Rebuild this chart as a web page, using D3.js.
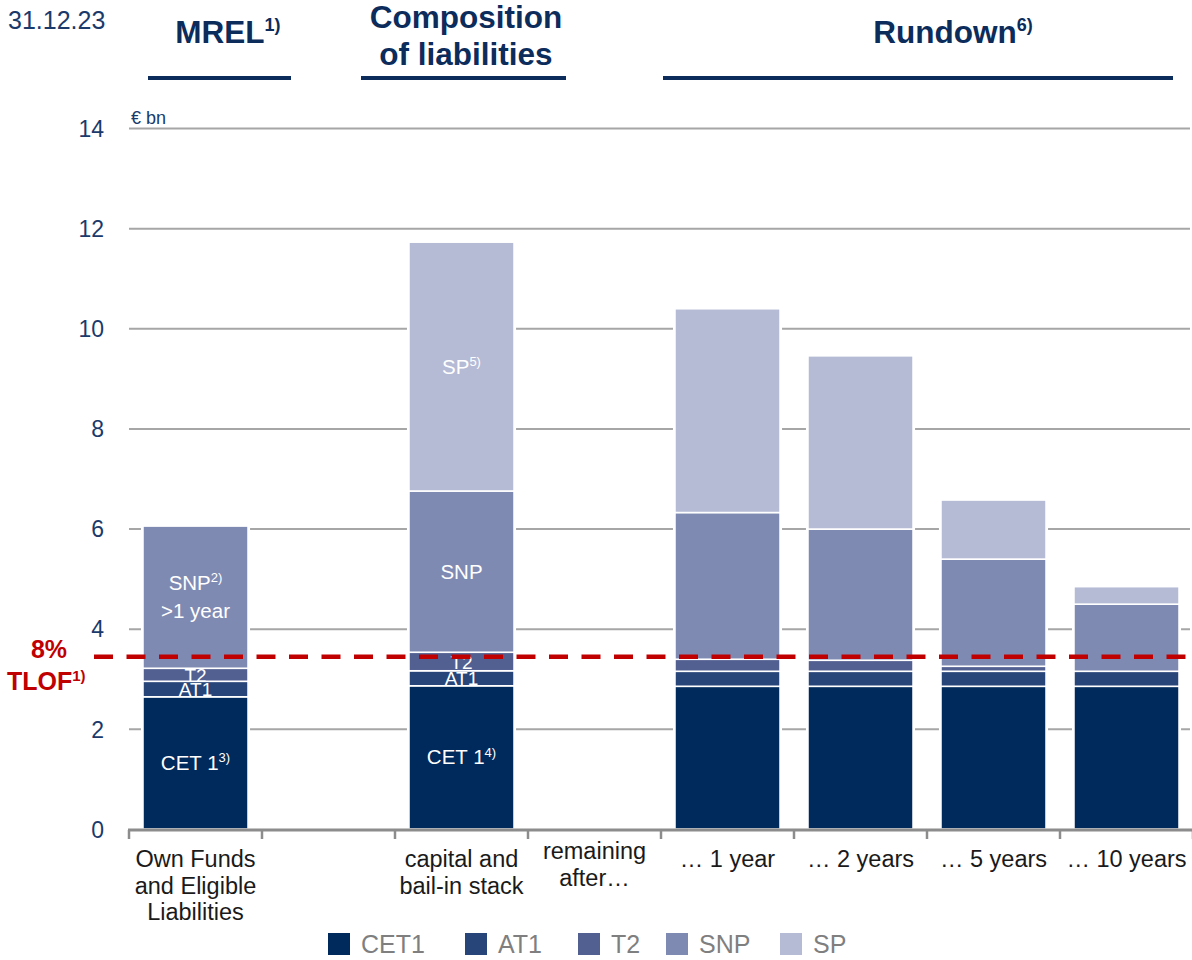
<!DOCTYPE html>
<html>
<head>
<meta charset="utf-8">
<script src="https://cdn.jsdelivr.net/npm/d3@7"></script>
<style>
  body { margin: 0; background: #fff; }
  svg { display: block; }
  text { font-family: "Liberation Sans", Arial, sans-serif; }
</style>
</head>
<body>
<svg id="chart" width="1192" height="960"></svg>
<script>
// ---- data (€ bn, 31.12.23) ----
const categories = ["ofel", "spacer", "stack", "remaining", "y1", "y2", "y5", "y10"];
const categoryLabels = [
  ["Own Funds", "and Eligible", "Liabilities"],
  [],
  ["capital and", "bail-in stack"],
  ["remaining", "after…"],
  ["… 1 year"],
  ["… 2 years"],
  ["… 5 years"],
  ["… 10 years"]
];
const seriesNames = ["CET1", "AT1", "T2", "SNP", "SP"];
const cet1 = [2.64, 0, 2.86, 0, 2.85, 2.85, 2.85, 2.85];
const at1  = [0.31, 0, 0.30, 0, 0.30, 0.30, 0.30, 0.30];
const t2   = [0.26, 0, 0.37, 0, 0.24, 0.22, 0.10, 0.00];
const snp  = [2.84, 0, 3.22, 0, 2.93, 2.62, 2.14, 1.34];
const sp   = [0.00, 0, 4.97, 0, 4.07, 3.46, 1.18, 0.35];
const yTicks = [0, 2, 4, 6, 8, 10, 12, 14];
const tlofLevel = 3.44;

// labels written inside the bars
const segmentLabels = [
  { cat: "ofel",  series: "CET1", lines: [["CET 1", "3)"]] },
  { cat: "ofel",  series: "AT1",  lines: [["AT1", ""]] },
  { cat: "ofel",  series: "T2",   lines: [["T2", ""]] },
  { cat: "ofel",  series: "SNP",  lines: [["SNP", "2)"], [">1 year", ""]] },
  { cat: "stack", series: "CET1", lines: [["CET 1", "4)"]] },
  { cat: "stack", series: "AT1",  lines: [["AT1", ""]] },
  { cat: "stack", series: "T2",   lines: [["T2", ""]] },
  { cat: "stack", series: "SNP",  lines: [["SNP", ""]] },
  { cat: "stack", series: "SP",   lines: [["SP", "5)"]] }
];

// header groups above the plot
const headers = [
  { lines: [["MREL", "1)"]], from: 148, to: 291, center: 228 },
  { lines: [["Composition", ""], ["of liabilities", ""]], from: 361, to: 566, center: 466 },
  { lines: [["Rundown", "6)"]], from: 663, to: 1173, center: 953 }
];

// ---- styling ----
const colors = {
  CET1: "#00295c",
  AT1:  "#28457a",
  T2:   "#525f91",
  SNP:  "#7f8ab3",
  SP:   "#b5bad5"
};
const navy = "#0c2c5c";
const red = "#c00000";
const gridGray = "#a6a6a6";

const svg = d3.select("#chart");

const rows = categories.map((c, i) => ({
  key: c, CET1: cet1[i], AT1: at1[i], T2: t2[i], SNP: snp[i], SP: sp[i]
}));
const totals = rows.map(r => seriesNames.reduce((s, k) => s + r[k], 0));
const stacked = d3.stack().keys(seriesNames)(rows);

const x = d3.scaleBand()
  .domain(categories)
  .range([129, 1193])
  .paddingInner(0.21)
  .paddingOuter(0.105);

const y = d3.scaleLinear().domain([0, 14]).range([829, 128]);

// ---- gridlines ----
const gridAxis = d3.axisLeft(y)
  .tickValues(yTicks.filter(v => v > 0))
  .tickSize(-(1190 - 129))
  .tickFormat("");
svg.append("g")
  .attr("transform", "translate(129,0)")
  .call(gridAxis)
  .call(g => g.select(".domain").remove())
  .call(g => g.selectAll("line").attr("stroke", gridGray).attr("stroke-width", 2));

// ---- y tick labels ----
const labelAxis = d3.axisLeft(y).tickValues(yTicks).tickSize(0).tickPadding(0);
svg.append("g")
  .attr("transform", "translate(104,0)")
  .call(labelAxis)
  .call(g => g.select(".domain").remove())
  .call(g => g.selectAll("text")
    .attr("fill", "#1a3a6b")
    .attr("font-size", 23)
    .attr("font-family", "Liberation Sans, Arial, sans-serif")
    .attr("dy", "0.36em"));

svg.append("text")
  .attr("x", 131).attr("y", 124)
  .attr("fill", "#1a3a6b").attr("font-size", 18)
  .text("€ bn");

// ---- bars ----
// white halo behind each stack so gridlines break around it
svg.append("g").selectAll("rect")
  .data(rows.filter((r, i) => totals[i] > 0))
  .join("rect")
  .attr("x", d => x(d.key) - 2)
  .attr("width", x.bandwidth() + 4)
  .attr("y", d => y(seriesNames.reduce((s, k) => s + d[k], 0)) - 2)
  .attr("height", d => y(0) - y(seriesNames.reduce((s, k) => s + d[k], 0)) + 2)
  .attr("fill", "#fff");

svg.append("g").selectAll("g")
  .data(stacked)
  .join("g")
  .attr("fill", s => colors[s.key])
  .selectAll("rect")
  .data(s => s.filter(d => d[1] - d[0] > 0))
  .join("rect")
  .attr("x", d => x(d.data.key))
  .attr("width", x.bandwidth())
  .attr("y", d => y(d[1]))
  .attr("height", d => y(d[0]) - y(d[1]))
  .attr("stroke", "#fff")
  .attr("stroke-width", 1.6);

// ---- labels inside bars ----
function addRichText(sel, parts, size, supSize) {
  sel.append("tspan").text(parts[0]);
  if (parts[1]) {
    sel.append("tspan")
      .attr("font-size", supSize)
      .attr("dy", -size * 0.38)
      .text(parts[1]);
  }
}

segmentLabels.forEach(lbl => {
  const layer = stacked.find(s => s.key === lbl.series);
  const seg = layer[categories.indexOf(lbl.cat)];
  const cy = y((seg[0] + seg[1]) / 2);
  const cx = x(lbl.cat) + x.bandwidth() / 2;
  const n = lbl.lines.length;
  const thin = lbl.series === "AT1" || lbl.series === "T2";
  const fs = thin ? 19 : 20.5;
  lbl.lines.forEach((ln, j) => {
    const t = svg.append("text")
      .attr("x", cx)
      .attr("y", cy + (j - (n - 1) / 2) * 28 + 7)
      .attr("text-anchor", "middle")
      .attr("fill", "#fff")
      .attr("font-size", fs);
    addRichText(t, ln, fs, 13);
  });
});

// ---- x axis ----
const xAxisY = y(0) + 1;
svg.append("line")
  .attr("x1", 128).attr("x2", 1192)
  .attr("y1", xAxisY).attr("y2", xAxisY)
  .attr("stroke", "#8c8c8c").attr("stroke-width", 3);

const boundaries = d3.range(categories.length + 1)
  .map(i => x.range()[0] + i * x.step());
svg.append("g").selectAll("line")
  .data(boundaries)
  .join("line")
  .attr("x1", d => d).attr("x2", d => d)
  .attr("y1", xAxisY).attr("y2", xAxisY + 9)
  .attr("stroke", "#8c8c8c").attr("stroke-width", 2.5);

categories.forEach((c, i) => {
  const cx = x(c) + x.bandwidth() / 2;
  const top = c === "remaining" ? 859 : 867;
  categoryLabels[i].forEach((line, j) => {
    svg.append("text")
      .attr("x", cx)
      .attr("y", top + j * 26.5)
      .attr("text-anchor", "middle")
      .attr("fill", "#1a1a1a")
      .attr("font-size", 23.5)
      .text(line);
  });
});

// ---- 8% TLOF threshold ----
svg.append("line")
  .attr("x1", 94).attr("x2", 1192)
  .attr("y1", y(tlofLevel)).attr("y2", y(tlofLevel))
  .attr("stroke", red).attr("stroke-width", 4.5)
  .attr("stroke-dasharray", "19,13.5");

svg.append("text")
  .attr("x", 49).attr("y", 658)
  .attr("text-anchor", "middle")
  .attr("fill", red).attr("font-size", 25).attr("font-weight", "bold")
  .text("8%");
const tlof = svg.append("text")
  .attr("x", 7).attr("y", 690)
  .attr("fill", red).attr("font-size", 25).attr("font-weight", "bold");
addRichText(tlof, ["TLOF", "1)"], 25, 15);

// ---- header ----
svg.append("text")
  .attr("x", 8).attr("y", 29)
  .attr("fill", "#1a3a6b").attr("font-size", 25)
  .text("31.12.23");

headers.forEach(h => {
  const n = h.lines.length;
  h.lines.forEach((ln, j) => {
    const t = svg.append("text")
      .attr("x", h.center)
      .attr("y", n === 1 ? 43 : 28 + j * 37)
      .attr("text-anchor", "middle")
      .attr("fill", navy).attr("font-size", 31.5).attr("font-weight", "bold");
    addRichText(t, ln, 31.5, 18);
  });
  svg.append("line")
    .attr("x1", h.from).attr("x2", h.to)
    .attr("y1", 78).attr("y2", 78)
    .attr("stroke", navy).attr("stroke-width", 4);
});

// ---- legend ----
const legendX = [328, 465, 578, 666, 780];
const legend = svg.append("g").selectAll("g")
  .data(seriesNames)
  .join("g")
  .attr("transform", (d, i) => `translate(${legendX[i]},933)`);
legend.append("rect")
  .attr("width", 22).attr("height", 22)
  .attr("fill", d => colors[d]);
legend.append("text")
  .attr("x", 33).attr("y", 20)
  .attr("fill", "#7f7f7f").attr("font-size", 25)
  .text(d => d);
</script>
</body>
</html>
